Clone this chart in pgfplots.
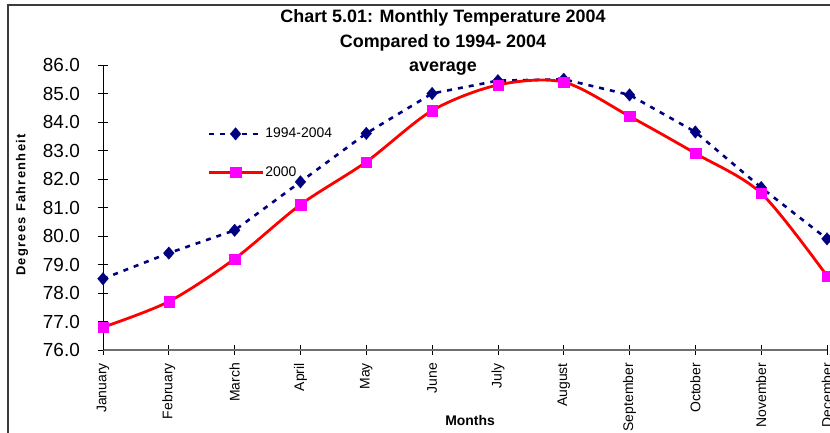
\documentclass[border=0pt]{standalone}
\usepackage{fontspec}
\setmainfont{Liberation Sans}
\usepackage{pgfplots}
\pgfplotsset{compat=1.18}
\definecolor{navy}{HTML}{000080}
\definecolor{mymagenta}{HTML}{FF00FF}
\definecolor{myred}{HTML}{FF0000}
\definecolor{framegray}{HTML}{3C3C3C}
\definecolor{axisgray}{HTML}{6E6E6E}
\begin{document}
\begin{tikzpicture}
\useasboundingbox (0bp,0bp) rectangle (830bp,433bp);
\draw[color=framegray, line width=2bp] (8bp,-10bp) -- (8bp,428bp) -- (850bp,428bp);
\node[align=center, font=\bfseries\fontsize{18}{24.5}\selectfont] at (443bp,390.5bp) {Chart 5.01: Monthly Temperature 2004\\Compared to 1994- 2004\\average};
\begin{axis}[
  at={(103bp,83bp)}, anchor=south west, scale only axis,
  width=724bp, height=285bp,
  xmin=0, xmax=11, ymin=76, ymax=86,
  axis lines*=left, clip=false,
  xtick={0,...,11},
  xticklabels={January,February,March,April,May,June,July,August,September,October,November,December},
  ytick={76,77,...,86},
  tick align=center, major tick length=10bp,
  tick style={black, line width=0.8bp},
  x axis line style={draw=axisgray, line width=1.6bp},
  y axis line style={draw=black, line width=0.8bp},
  /pgf/number format/.cd, fixed, fixed zerofill, precision=1, assume math mode=true, /pgfplots/.cd,
  yticklabel style={font=\fontsize{19}{19}\selectfont, anchor=east, inner sep=0pt},
  yticklabel shift=18bp,
  xticklabel style={rotate=90, anchor=east, font=\fontsize{14}{14}\selectfont, inner sep=0pt},
  xticklabel shift=8bp,
  xlabel={Months},
  xlabel style={at={(axis description cs:0.507,-0.246)}, anchor=center, font=\bfseries\fontsize{14}{14}\selectfont},
  ylabel={Degrees Fahrenheit},
  ylabel style={at={(axis description cs:-0.1119,0.509)}, anchor=center, rotate=0, font=\bfseries\fontsize{13}{13}\selectfont\addfontfeatures{LetterSpace=10}},
  legend style={at={(axis description cs:0.1436,0.784)}, anchor=north west, draw=none, fill=none,
    font=\fontsize{14}{16}\selectfont, row sep=24bp, inner sep=0pt, nodes={inner sep=1.5bp}},
  legend cell align=left,
  legend image code/.code={\draw[mark repeat=2,mark phase=2,#1] plot coordinates {(0bp,0bp) (27bp,0bp) (54bp,0bp)};},
]
\addplot[navy, line width=2.6bp, dash pattern=on 5bp off 6bp, mark=diamond*, mark size=6.3bp,
  mark options={solid, fill=navy, draw=navy, line width=0.2bp, xscale=1.15}] coordinates {
  (0,78.5) (1,79.4) (2,80.2) (3,81.9) (4,83.6) (5,85.0) (6,85.45) (7,85.5) (8,84.95) (9,83.65) (10,81.7) (11,79.9)};
\addlegendentry{1994-2004}
\addplot[myred, line width=2.8bp, smooth, mark=square*, mark size=5.2bp,
  mark options={fill=mymagenta, draw=mymagenta, line width=0.1bp}] coordinates {
  (0,76.8) (1,77.7) (2,79.2) (3,81.1) (4,82.6) (5,84.4) (6,85.3) (7,85.4) (8,84.2) (9,82.9) (10,81.5) (11,78.6)};
\addlegendentry{2000}
\end{axis}
\end{tikzpicture}
\end{document}
